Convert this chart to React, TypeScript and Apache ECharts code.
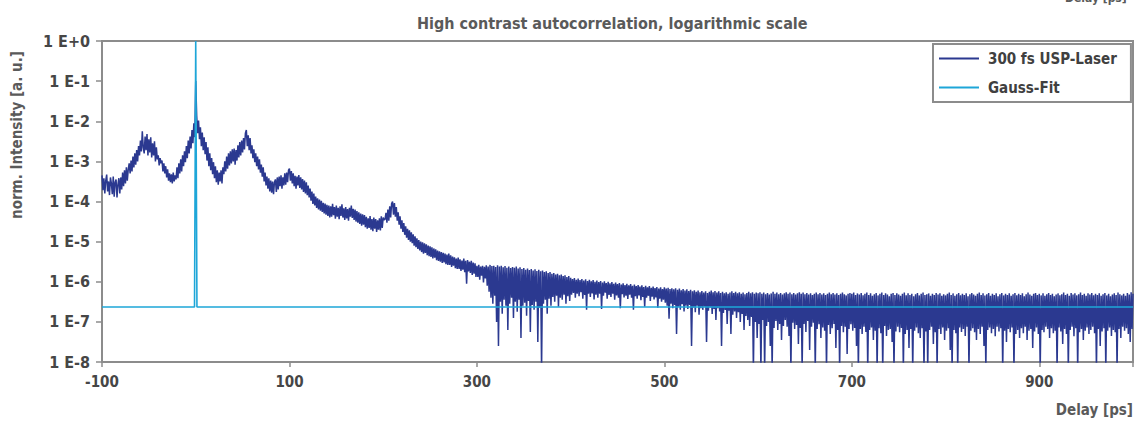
import React, { useEffect, useRef } from "react";
import * as echarts from "echarts";

// Delay axis sampling of the laser trace (ps)
const laserStartPs = -100;
const laserStepPs = 1;

// log10 of normalized intensity, 1 ps apart
const laserLogA = [ // -100 .. -1
  -3.35, -3.72, -3.42, -3.80, -3.48, -3.33, -3.75, -3.50, -3.84, -3.40,
  -3.55, -3.82, -3.38, -3.88, -3.52, -3.45, -3.90, -3.58, -3.42, -3.80,
  -3.40, -3.70, -3.28, -3.62, -3.22, -3.55, -3.15, -3.48, -3.20, -3.05,
  -3.30, -2.98, -3.25, -2.88, -3.15, -2.80, -3.08, -2.72, -3.00, -2.62,
  -2.85, -2.48, -2.75, -2.25, -2.65, -2.80, -2.38, -2.72, -2.32, -2.85,
  -2.45, -2.78, -2.40, -2.90, -2.55, -2.85, -2.50, -3.00, -2.65, -2.95,
  -2.85, -3.10, -2.92, -3.05, -2.98, -3.25, -3.05, -3.30, -3.12, -3.40,
  -3.20, -3.48, -3.30, -3.52, -3.32, -3.55, -3.28, -3.50, -3.35, -3.45,
  -3.15, -3.42, -3.05, -3.30, -2.95, -3.25, -2.85, -3.12, -2.75, -3.02,
  -2.62, -2.92, -2.48, -2.80, -2.38, -2.68, -2.22, -2.55, -2.05, -2.40,
];
const laserLogB = [ // 0 .. 99
  -1.00, -1.85, -2.30, -1.98, -2.45, -2.15, -2.62, -2.28, -2.72, -2.40,
  -2.82, -2.52, -2.98, -2.65, -3.12, -2.80, -3.22, -2.92, -3.32, -3.02,
  -3.42, -3.12, -3.52, -3.22, -3.58, -3.28, -3.50, -3.22, -3.55, -3.15,
  -3.32, -3.00, -3.25, -2.88, -3.18, -2.80, -3.10, -2.75, -3.05, -2.70,
  -3.00, -2.68, -3.08, -2.72, -2.98, -2.60, -2.90, -2.52, -2.85, -2.48,
  -2.78, -2.42, -2.70, -2.30, -2.22, -2.62, -2.35, -2.72, -2.42, -2.80,
  -2.60, -2.92, -2.70, -3.02, -2.80, -3.12, -2.88, -3.20, -2.95, -3.28,
  -3.08, -3.38, -3.15, -3.50, -3.28, -3.60, -3.38, -3.68, -3.42, -3.75,
  -3.48, -3.78, -3.50, -3.82, -3.52, -3.45, -3.76, -3.40, -3.70, -3.38,
  -3.62, -3.35, -3.68, -3.40, -3.60, -3.30, -3.58, -3.28, -3.52, -3.22,
];
const laserLogC = [ // 100 .. 199
  -3.18, -3.48, -3.24, -3.55, -3.30, -3.62, -3.36, -3.68, -3.38, -3.60,
  -3.34, -3.66, -3.40, -3.70, -3.44, -3.76, -3.48, -3.80, -3.52, -3.84,
  -3.60, -3.90, -3.68, -3.98, -3.75, -4.06, -3.80, -4.10, -3.88, -4.16,
  -3.92, -4.20, -3.95, -4.23, -3.98, -4.26, -4.03, -4.30, -4.05, -4.33,
  -4.08, -4.36, -4.10, -4.40, -4.12, -4.38, -4.06, -4.34, -4.14, -4.43,
  -4.10, -4.38, -4.16, -4.44, -4.12, -4.36, -4.07, -4.40, -4.17, -4.46,
  -4.14, -4.42, -4.19, -4.48, -4.16, -4.38, -4.10, -4.41, -4.18, -4.46,
  -4.20, -4.50, -4.24, -4.53, -4.27, -4.56, -4.30, -4.60, -4.32, -4.58,
  -4.34, -4.64, -4.38, -4.68, -4.42, -4.66, -4.36, -4.70, -4.44, -4.74,
  -4.40, -4.68, -4.44, -4.76, -4.47, -4.70, -4.42, -4.72, -4.37, -4.66,
];
const laserLogD = [ // 200 .. 299
  -4.40, -4.46, -4.44, -4.28, -4.53, -4.20, -4.48, -4.12, -4.40, -4.05,
  -4.00, -4.33, -4.04, -4.38, -4.14, -4.48, -4.27, -4.58, -4.37, -4.68,
  -4.47, -4.76, -4.54, -4.83, -4.62, -4.90, -4.68, -4.96, -4.72, -5.00,
  -4.77, -5.04, -4.82, -5.10, -4.87, -5.14, -4.92, -5.18, -4.96, -5.22,
  -5.00, -5.26, -5.02, -5.30, -5.04, -5.28, -5.07, -5.34, -5.10, -5.36,
  -5.12, -5.38, -5.14, -5.42, -5.17, -5.40, -5.19, -5.46, -5.22, -5.48,
  -5.24, -5.50, -5.26, -5.53, -5.28, -5.52, -5.30, -5.56, -5.32, -5.58,
  -5.30, -5.58, -5.34, -5.63, -5.37, -5.60, -5.39, -5.66, -5.42, -5.68,
  -5.40, -5.68, -5.44, -5.73, -5.47, -5.70, -5.42, -5.76, -5.48, -6.05,
  -5.46, -5.74, -5.50, -5.78, -5.48, -5.83, -5.52, -5.80, -5.54, -5.88,
];
const laserLogE = [ // 300 .. 399
  -5.60, -5.88, -5.58, -5.95, -5.62, -5.85, -5.60, -6.02, -5.63, -5.92,
  -5.59, -6.10, -5.62, -6.25, -5.58, -6.40, -5.61, -6.55, -5.60, -6.35,
  -5.63, -7.00, -5.59, -7.60, -5.62, -6.50, -5.60, -6.80, -5.64, -6.45,
  -5.61, -6.60, -5.65, -7.20, -5.62, -6.55, -5.66, -6.40, -5.63, -6.90,
  -5.65, -6.50, -5.62, -6.75, -5.67, -6.45, -5.64, -7.40, -5.68, -6.60,
  -5.66, -6.52, -5.70, -6.85, -5.67, -6.48, -5.71, -7.25, -5.68, -6.58,
  -5.72, -6.70, -5.69, -6.50, -5.73, -7.50, -5.70, -6.65, -5.74, -8.20,
  -5.72, -6.55, -5.76, -6.45, -5.74, -6.80, -5.78, -6.42, -5.76, -6.60,
  -5.80, -6.38, -5.78, -6.50, -5.82, -6.35, -5.80, -6.62, -5.84, -6.40,
  -5.82, -6.45, -5.86, -6.32, -5.84, -6.55, -5.88, -6.36, -5.86, -6.48,
];
const laserLogF = [ // 400 .. 499
  -5.90, -6.32, -5.93, -6.28, -5.91, -6.40, -5.95, -6.30, -5.92, -6.36,
  -5.96, -6.26, -5.93, -6.42, -5.97, -6.33, -5.94, -6.70, -5.98, -6.30,
  -5.95, -6.38, -5.99, -6.29, -5.96, -6.44, -6.00, -6.32, -5.97, -6.40,
  -6.01, -6.30, -5.98, -6.68, -6.02, -6.35, -5.99, -6.27, -6.03, -6.42,
  -6.00, -6.33, -6.04, -6.38, -6.01, -6.30, -6.05, -6.45, -6.02, -6.34,
  -6.06, -6.40, -6.03, -6.66, -6.07, -6.31, -6.04, -6.39, -6.08, -6.35,
  -6.05, -6.43, -6.09, -6.32, -6.06, -6.40, -6.10, -6.70, -6.07, -6.36,
  -6.11, -6.42, -6.08, -6.34, -6.12, -6.46, -6.09, -6.38, -6.13, -6.62,
  -6.10, -6.40, -6.14, -6.35, -6.11, -6.48, -6.15, -6.37, -6.12, -6.44,
  -6.16, -6.39, -6.13, -6.65, -6.17, -6.42, -6.14, -6.50, -6.18, -6.45,
];
const laserLogG = [ // 500 .. 599
  -6.14, -6.52, -6.17, -6.60, -6.15, -6.92, -6.18, -6.55, -6.16, -6.66,
  -6.19, -6.58, -6.16, -7.30, -6.20, -6.62, -6.17, -6.70, -6.21, -6.56,
  -6.18, -6.74, -6.22, -6.60, -6.19, -6.68, -6.23, -6.58, -6.20, -7.60,
  -6.24, -6.64, -6.21, -6.76, -6.25, -6.60, -6.22, -6.82, -6.26, -6.66,
  -6.23, -6.70, -6.27, -6.62, -6.24, -7.50, -6.28, -6.72, -6.25, -6.64,
  -6.22, -6.80, -6.26, -6.68, -6.23, -6.95, -6.27, -6.66, -6.24, -6.74,
  -6.28, -7.60, -6.25, -6.78, -6.29, -6.70, -6.26, -7.05, -6.30, -6.72,
  -6.27, -7.30, -6.24, -6.82, -6.28, -6.74, -6.25, -6.90, -6.29, -6.76,
  -6.26, -7.00, -6.30, -6.80, -6.27, -7.20, -6.31, -6.85, -6.28, -6.95,
  -6.25, -7.10, -6.29, -6.88, -6.26, -8.20, -6.30, -7.00, -6.27, -7.40,
];
const laserLogH = [ // 600 .. 699
  -6.29, -7.05, -6.26, -8.20, -6.30, -6.95, -6.27, -8.20, -6.31, -7.10,
  -6.28, -7.00, -6.32, -7.60, -6.29, -8.20, -6.25, -7.15, -6.30, -6.98,
  -6.27, -7.20, -6.31, -7.05, -6.28, -7.45, -6.32, -7.10, -6.29, -6.95,
  -6.26, -7.12, -6.30, -7.35, -6.27, -8.20, -6.31, -7.02, -6.28, -7.18,
  -6.32, -7.08, -6.29, -7.55, -6.26, -7.15, -6.30, -8.20, -6.27, -7.05,
  -6.31, -7.25, -6.28, -6.98, -6.32, -7.70, -6.29, -7.12, -6.33, -7.02,
  -6.30, -8.20, -6.27, -7.18, -6.31, -7.06, -6.28, -7.40, -6.32, -7.14,
  -6.29, -7.22, -6.33, -8.20, -6.30, -7.08, -6.27, -7.30, -6.31, -7.16,
  -6.28, -7.05, -6.32, -7.65, -6.29, -7.20, -6.33, -8.20, -6.30, -7.10,
  -6.27, -7.26, -6.31, -7.12, -6.34, -7.80, -6.30, -7.18, -6.28, -7.06,
];
const laserLogI = [ // 700 .. 799
  -6.30, -7.22, -6.27, -7.15, -6.33, -7.60, -6.29, -8.20, -6.32, -7.18,
  -6.28, -7.30, -6.34, -7.12, -6.30, -7.25, -6.27, -8.20, -6.33, -7.20,
  -6.29, -7.14, -6.35, -7.45, -6.31, -7.22, -6.28, -8.20, -6.34, -7.16,
  -6.30, -7.28, -6.27, -8.20, -6.33, -7.10, -6.29, -7.35, -6.32, -7.20,
  -6.36, -7.18, -6.30, -7.50, -6.28, -8.20, -6.33, -7.24, -6.29, -7.12,
  -6.32, -7.26, -6.35, -7.15, -6.30, -8.20, -6.27, -7.30, -6.34, -7.20,
  -6.29, -7.65, -6.33, -7.18, -6.30, -8.20, -6.36, -7.22, -6.31, -7.14,
  -6.28, -7.28, -6.34, -7.40, -6.30, -7.16, -6.27, -8.20, -6.33, -7.24,
  -6.31, -8.20, -6.29, -7.20, -6.35, -7.12, -6.30, -7.55, -6.33, -7.26,
  -6.28, -8.20, -6.32, -7.18, -6.29, -7.30, -6.35, -7.14, -6.31, -7.45,
];
const laserLogJ = [ // 800 .. 899
  -6.34, -7.22, -6.30, -7.16, -6.27, -7.70, -6.33, -8.20, -6.29, -7.20,
  -6.35, -7.28, -6.31, -8.20, -6.28, -7.14, -6.34, -7.25, -6.30, -7.18,
  -6.33, -7.35, -6.29, -7.12, -6.36, -8.20, -6.31, -7.22, -6.28, -7.16,
  -6.32, -7.26, -6.35, -7.45, -6.30, -7.18, -6.27, -7.30, -6.33, -7.12,
  -6.29, -7.60, -6.34, -8.20, -6.31, -7.20, -6.28, -7.14, -6.35, -7.28,
  -6.30, -7.18, -6.33, -7.36, -6.29, -7.12, -6.36, -7.24, -6.31, -7.16,
  -6.28, -8.20, -6.34, -7.22, -6.30, -7.50, -6.33, -7.18, -6.29, -7.26,
  -6.35, -7.14, -6.31, -8.20, -6.28, -7.30, -6.34, -7.20, -6.30, -7.40,
  -6.33, -7.16, -6.29, -7.28, -6.36, -7.12, -6.31, -7.45, -6.27, -7.22,
  -6.32, -7.18, -6.35, -7.65, -6.30, -7.24, -6.28, -7.14, -6.33, -7.30,
];
const laserLogK = [ // 900 .. 1000
  -6.30, -8.20, -6.34, -7.20, -6.29, -7.26, -6.35, -7.12, -6.31, -7.18,
  -6.28, -7.40, -6.33, -7.16, -6.30, -7.28, -6.36, -7.22, -6.32, -8.20,
  -6.29, -7.14, -6.34, -7.24, -6.31, -7.55, -6.27, -7.18, -6.33, -7.30,
  -6.30, -8.20, -6.35, -7.20, -6.28, -7.12, -6.32, -7.36, -6.29, -7.16,
  -6.34, -8.20, -6.31, -7.26, -6.27, -7.18, -6.33, -7.45, -6.30, -7.22,
  -6.35, -7.14, -6.29, -7.30, -6.32, -7.20, -6.28, -7.12, -6.34, -7.28,
  -6.30, -8.20, -6.33, -7.18, -6.29, -7.60, -6.35, -7.24, -6.31, -7.16,
  -6.28, -8.20, -6.34, -7.22, -6.30, -7.14, -6.36, -7.35, -6.32, -7.20,
  -6.29, -7.26, -6.33, -8.20, -6.27, -7.18, -6.31, -7.40, -6.34, -7.12,
  -6.30, -7.22, -6.35, -7.16, -6.28, -7.30, -6.32, -7.50, -6.26, -7.18,
  -6.30,
];

// Gauss fit: delay (ps) and intensity
const gaussDelay = [-100, -1.3, 0, 1.3, 1000];
const gaussValue = [2.35e-7, 2.35e-7, 1, 2.35e-7, 2.35e-7];

const seriesNames = ["300 fs USP-Laser", "Gauss-Fit"];
const titleText = "High contrast autocorrelation, logarithmic scale";
const xAxisTitle = "Delay [ps]";
const yAxisTitle = "norm. Intensity [a. u.]";

const FONT = "'DejaVu Sans Condensed', 'DejaVu Sans', sans-serif";

export default function App() {
  const ref = useRef<HTMLDivElement>(null);
  useEffect(() => {
    if (!ref.current) return;
    const chart = echarts.init(ref.current, null, { renderer: "svg" });
    const allLog = [
      ...laserLogA, ...laserLogB, ...laserLogC, ...laserLogD, ...laserLogE,
      ...laserLogF, ...laserLogG, ...laserLogH, ...laserLogI, ...laserLogJ, ...laserLogK,
    ];
    const laserData = allLog.map((v, i) => [laserStartPs + i * laserStepPs, Math.pow(10, v)]);
    const gaussData = gaussDelay.map((d, i) => [d, gaussValue[i]]);
    const axisGray = "#8c8c8c";
    const labelColor = "#464646";
    const nameColor = "#5a5a5a";
    chart.setOption({
      animation: false,
      backgroundColor: "#ffffff",
      title: {
        text: titleText,
        left: 412,
        top: 10,
        textStyle: { fontFamily: FONT, fontSize: 16, fontWeight: "bold", color: nameColor },
      },
      graphic: [
        {
          type: "text",
          left: 1065,
          top: -8,
          style: { text: xAxisTitle, font: `bold 12px ${FONT}`, fill: nameColor },
        },
        {
          type: "text",
          x: 17,
          y: 135,
          rotation: Math.PI / 2,
          style: {
            text: yAxisTitle,
            font: `bold 15px ${FONT}`,
            fill: nameColor,
            align: "center",
            verticalAlign: "middle",
          },
        },
      ],
      legend: {
        orient: "vertical",
        left: 933,
        top: 44,
        padding: [7, 14, 7, 6],
        itemWidth: 40,
        itemHeight: 2,
        itemGap: 14,
        backgroundColor: "#ffffff",
        borderColor: axisGray,
        borderWidth: 2,
        textStyle: { fontFamily: FONT, fontSize: 15, fontWeight: "bold", color: "#404040", padding: [0, 0, 0, 4] },
        data: [
          { name: seriesNames[0], icon: "rect" },
          { name: seriesNames[1], icon: "rect" },
        ],
      },
      grid: {
        left: 102,
        right: 3,
        top: 41,
        bottom: 59,
        show: true,
        borderColor: axisGray,
        borderWidth: 2,
      },
      xAxis: {
        type: "value",
        min: -100,
        max: 1000,
        interval: 200,
        name: xAxisTitle,
        nameLocation: "end",
        nameGap: 0,
        nameTextStyle: {
          fontFamily: FONT, fontSize: 15, fontWeight: "bold", color: nameColor,
          align: "right", verticalAlign: "top", padding: [40, 0, 0, 0],
        },
        axisLine: { onZero: false, lineStyle: { color: axisGray, width: 2 } },
        axisTick: { length: 5, lineStyle: { color: axisGray, width: 1.5 } },
        splitLine: { show: false },
        axisLabel: {
          margin: 12,
          fontFamily: FONT,
          fontSize: 15,
          fontWeight: "bold",
          color: labelColor,
          formatter: (v: number) => (v >= 1000 ? "" : String(v)),
        },
      },
      yAxis: {
        type: "log",
        logBase: 10,
        min: 1e-8,
        max: 1,
        splitNumber: 8,
        axisLine: { show: true, onZero: false, lineStyle: { color: axisGray, width: 2 } },
        axisTick: { show: true, length: 6, lineStyle: { color: axisGray, width: 1.5 } },
        splitLine: { show: false },
        axisLabel: {
          margin: 12,
          fontFamily: FONT,
          fontSize: 16,
          fontWeight: "bold",
          color: labelColor,
          formatter: (v: number) => {
            const e = Math.round(Math.log10(v));
            return "1 E" + (e >= 0 ? "+" : "") + e;
          },
        },
      },
      series: [
        {
          name: seriesNames[0],
          type: "line",
          data: laserData,
          showSymbol: false,
          symbol: "none",
          clip: true,
          lineStyle: { color: "#2b3990", width: 1.5 },
          itemStyle: { color: "#2b3990" },
        },
        {
          name: seriesNames[1],
          type: "line",
          data: gaussData,
          showSymbol: false,
          symbol: "none",
          clip: true,
          lineStyle: { color: "#1ea6d8", width: 1.6 },
          itemStyle: { color: "#1ea6d8" },
        },
      ],
    });
    return () => chart.dispose();
  }, []);
  return (
    <div
      ref={ref}
      style={{ position: "fixed", left: 0, top: 0, width: 1136, height: 421, background: "#fff" }}
    />
  );
}
